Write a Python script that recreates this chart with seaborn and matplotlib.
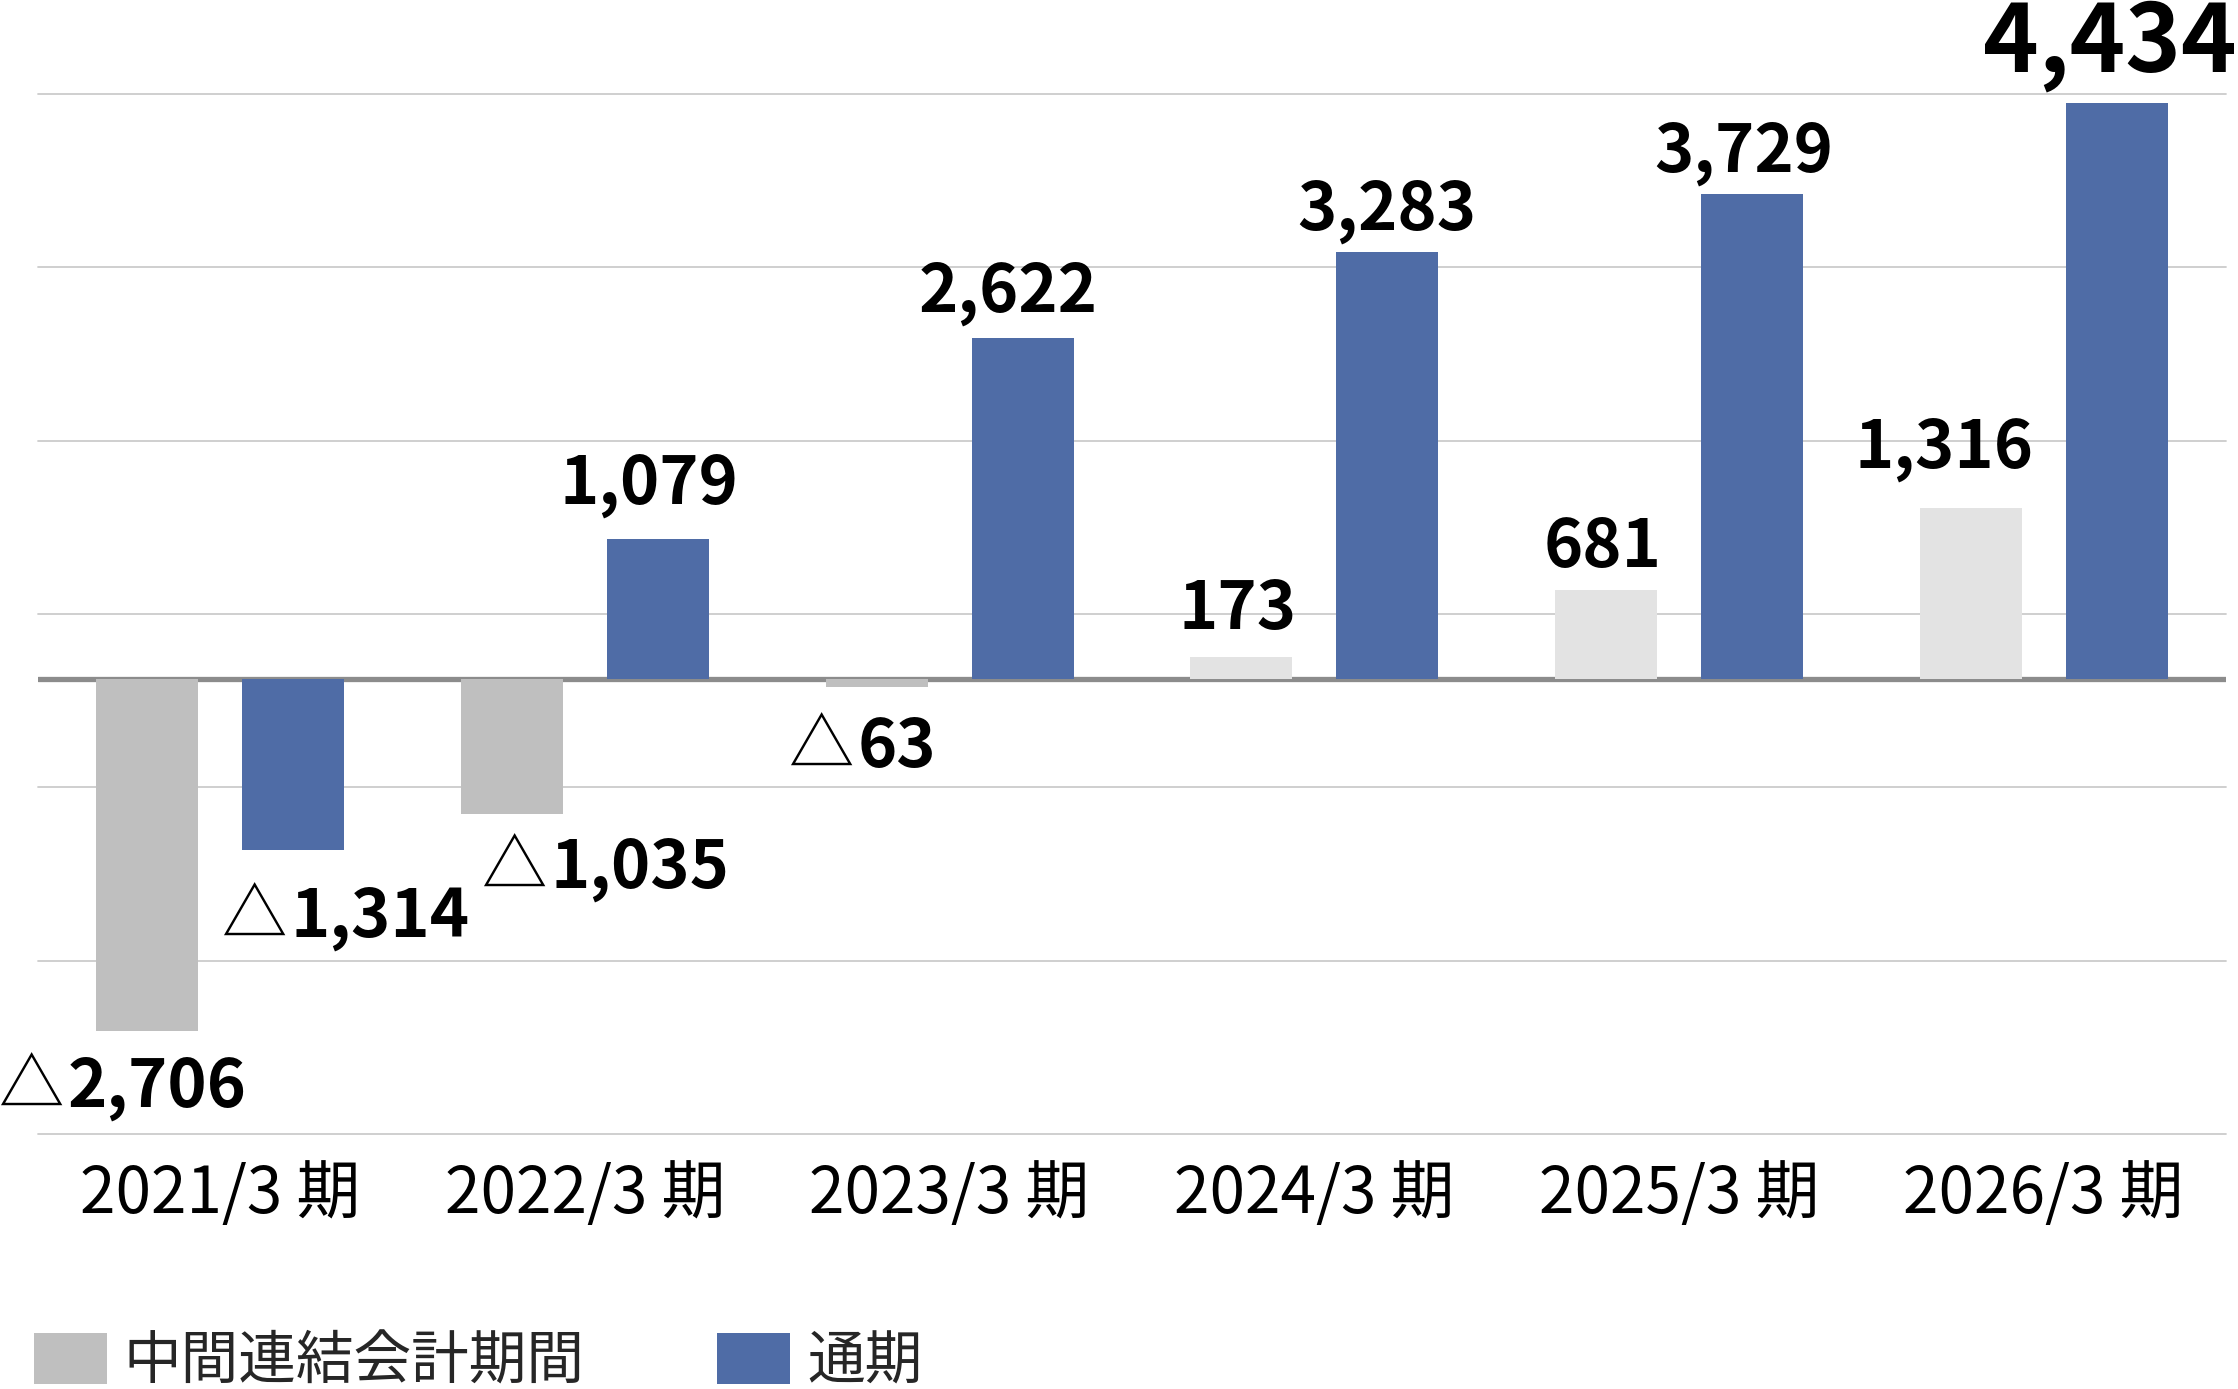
import numpy as np
import pandas as pd
import matplotlib
matplotlib.use("Agg")
import matplotlib.pyplot as plt
import seaborn as sns
from matplotlib.patches import Patch

# ---- data ----
periods = ["2021/3 期", "2022/3 期", "2023/3 期", "2024/3 期", "2025/3 期", "2026/3 期"]
series_names = ["中間連結会計期間", "通期"]
interim = [-2706, -1035, -63, 173, 681, 1316]
full_year = [-1314, 1079, 2622, 3283, 3729, 4434]

df = pd.DataFrame({
    "period": periods * 2,
    "series": [series_names[0]] * len(periods) + [series_names[1]] * len(periods),
    "value": interim + full_year,
})

# ---- style ----
sns.set_theme(style="white")
plt.rcParams["font.family"] = ["Noto Sans CJK JP", "DejaVu Sans"]

BLUE = "#4f6ca6"
GRAY_NEG = "#bfbfbf"
GRAY_POS = "#e3e3e3"

fig = plt.figure(figsize=(22.38, 13.89), dpi=100)
ax = fig.add_axes([38 / 2238, 1 - 1134 / 1389, (2226 - 38) / 2238, (1134 - 94) / 1389])

sns.barplot(data=df, x="period", y="value", hue="series", order=periods,
            hue_order=series_names, palette=[GRAY_NEG, BLUE], saturation=1,
            width=0.8, gap=0.3, dodge=True, errorbar=None, linewidth=0,
            legend=False, ax=ax, zorder=3)

# interim bars: darker gray when negative, light gray when positive
for rect, v in zip(ax.containers[0], interim):
    rect.set_facecolor(GRAY_NEG if v < 0 else GRAY_POS)

ax.set_xlim(-0.5, len(periods) - 0.5)
ax.set_ylim(-3500, 4500)
ax.set_yticks(np.linspace(-3500, 4500, 7))
ax.set_yticklabels([])
ax.tick_params(axis="y", length=0)
ax.grid(axis="y", color="#cccccc", linewidth=1.3)
ax.grid(axis="x", visible=False)
for gl in ax.get_ygridlines():
    gl.set_clip_on(False)
ax.set_axisbelow(True)
ax.axhline(0, color="#8c8c8c", linewidth=3.8, zorder=2)
for s in ax.spines.values():
    s.set_visible(False)
ax.set_xlabel("")
ax.set_ylabel("")
ax.tick_params(axis="x", length=0, pad=20, labelsize=46, labelcolor="black")

# ---- value labels (offsets in pixels: dx, dy relative to bar end) ----
pos_off = {  # (series index, period index): (dx, dy)
    (0, 3): (-4, 28), (0, 4): (-3, 23), (0, 5): (-27, 40),
    (1, 1): (-9, 35), (1, 2): (-14, 27), (1, 3): (0, 23), (1, 4): (-8, 23),
    (1, 5): (-7, 31),
}
neg_off = {  # boundary between triangle and digits
    (0, 0): (-82, -76), (0, 1): (36, -74), (0, 2): (-21, -80),
    (1, 0): (-5, -87),
}
big = {(1, 5)}
LABEL_FS = 48

for si, vals in enumerate([interim, full_year]):
    for pi, (rect, v) in enumerate(zip(ax.containers[si], vals)):
        xc = rect.get_x() + rect.get_width() / 2
        if v >= 0:
            dx, dy = pos_off[(si, pi)]
            ax.annotate(f"{v:,}", xy=(xc, v), xytext=(dx, dy),
                        textcoords="offset pixels", ha="center", va="baseline",
                        fontsize=68 if (si, pi) in big else LABEL_FS,
                        fontweight="bold", color="black", zorder=5)
        else:
            dx, dy = neg_off[(si, pi)]
            ax.annotate("△", xy=(xc, v), xytext=(dx - 2, dy),
                        textcoords="offset pixels", ha="right", va="baseline",
                        fontsize=LABEL_FS - 1, fontweight="normal", color="black", zorder=5)
            ax.annotate(f"{abs(v):,}", xy=(xc, v), xytext=(dx + 2, dy),
                        textcoords="offset pixels", ha="left", va="baseline",
                        fontsize=LABEL_FS, fontweight="bold", color="black", zorder=5)

# ---- legend ----
handles = [Patch(facecolor=GRAY_NEG, edgecolor="none"), Patch(facecolor=BLUE, edgecolor="none")]
fig.legend(handles, series_names, loc="center left",
           bbox_to_anchor=(34 / 2238, 1 - 1362 / 1389), ncol=2, frameon=False,
           fontsize=41.5, handlelength=1.26, handleheight=1.0, handletextpad=0.3,
           columnspacing=2.3, borderpad=0, borderaxespad=0)

fig.savefig("out.png", dpi=100, facecolor="white")
